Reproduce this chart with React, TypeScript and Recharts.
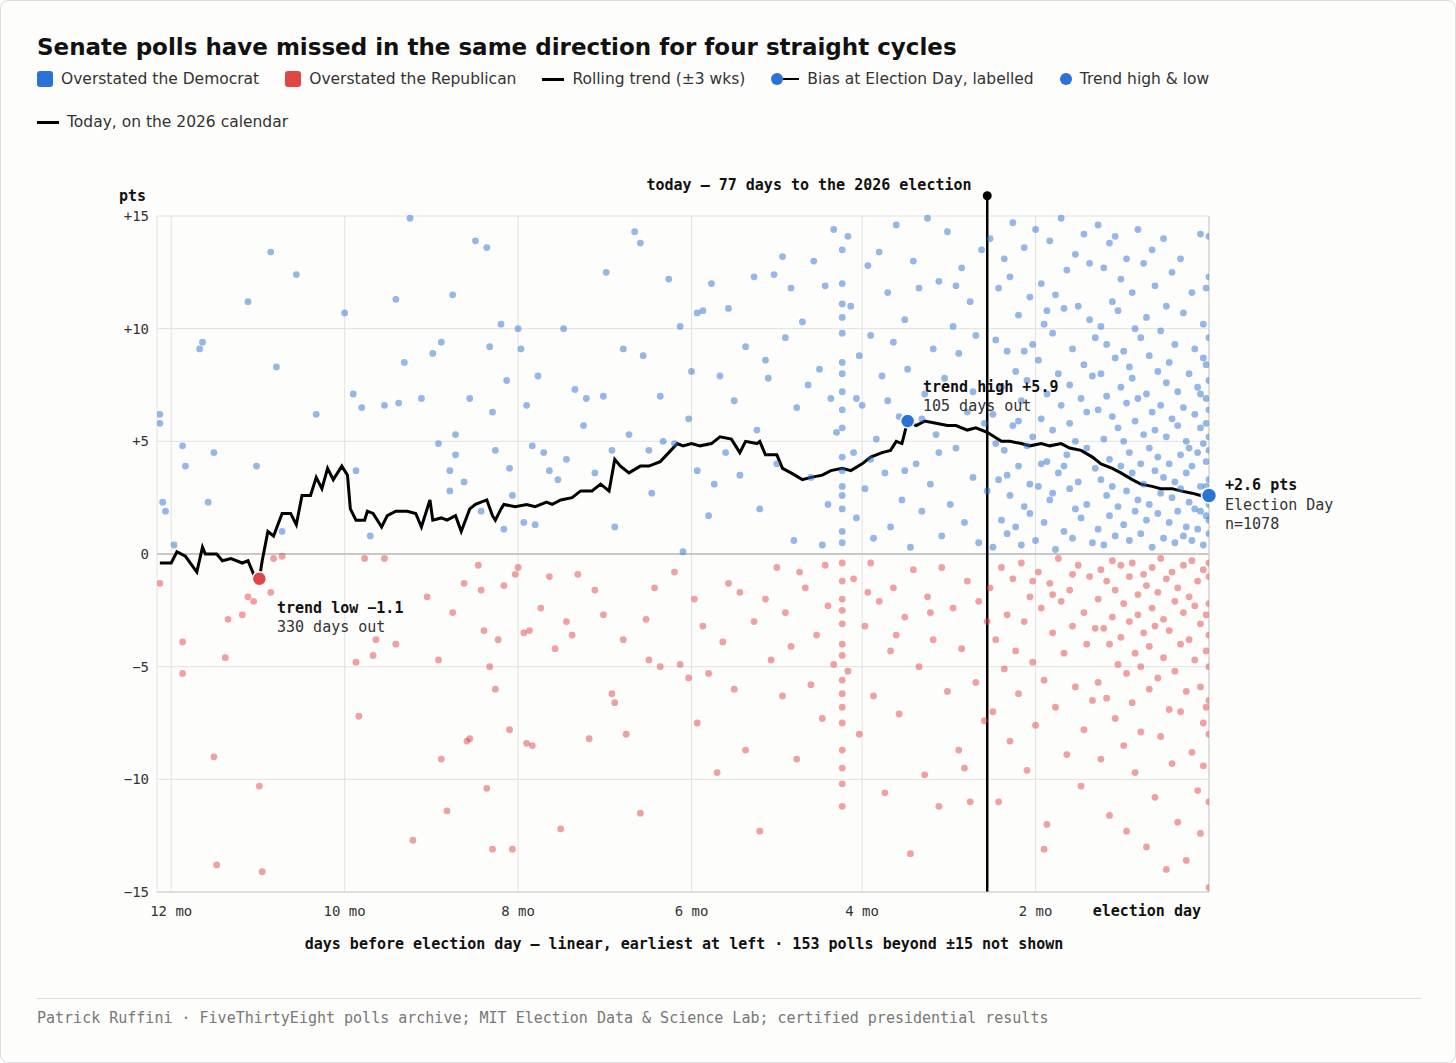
import React from "react";
import {
  ComposedChart,
  Scatter,
  Line,
  XAxis,
  YAxis,
  CartesianGrid,
  ReferenceLine,
  ReferenceDot,
} from "recharts";

// [days before election, bias in pts]
const demPolls: [number, number][] = [
  [369,6.2],[369,5.8],[368,2.3],[367,1.9],[364,0.4],[361,4.8],[360,3.9],[355,9.1],[354,9.4],[352,2.3],[350,4.5],[338,11.2],[335,3.9],[330,13.4],[328,8.3],[326,1.0],[321,12.4],[314,6.2],[304,10.7],[301,7.1],[300,3.7],
  [298,6.5],[295,0.8],[290,6.6],[286,11.3],[285,6.7],[283,8.5],[281,14.9],[277,6.9],[273,8.9],[271,4.9],[270,9.4],[267,3.7],[267,2.8],[266,11.5],[265,4.4],[265,5.3],[262,3.2],[260,6.9],[258,13.9],[256,1.9],[254,13.6],[253,9.2],[252,6.3],[251,4.6],[249,10.2],[248,1.1],[247,7.7],[246,3.8],[245,2.6],[243,10.0],[242,9.1],[241,1.4],[240,6.6],
  [238,4.8],[237,1.3],[236,7.9],[234,4.5],[232,3.7],[229,3.3],[227,10.0],[226,4.2],[223,7.3],[220,5.7],[219,6.9],[216,3.6],[213,7.0],[212,12.5],[210,4.6],[209,1.2],[206,9.1],[204,5.3],[202,14.3],[200,13.8],[199,8.8],[197,4.6],[196,2.7],[193,7.0],[192,5.0],[190,12.2],[188,4.9],[186,10.1],[185,0.1],[183,6.0],[182,8.1],[180,10.7],[180,3.7],
  [178,10.8],[176,1.7],[175,12.0],[174,3.1],[172,7.9],[170,4.5],[169,10.9],[167,6.8],[165,3.5],[163,9.2],[160,12.3],[159,5.5],[158,2.0],[156,8.6],[155,7.8],[153,12.4],[152,4.0],[150,13.2],[149,9.6],[147,11.8],[146,0.6],[145,6.5],[143,10.3],[141,7.5],[140,3.4],[139,13.0],[137,8.2],[136,0.4],[135,11.9],[134,2.2],[133,6.9],[132,14.4],[131,5.4],
  [129,1.0],[129,2.0],[129,3.0],[129,4.3],[129,5.6],[129,7.2],[129,8.5],[129,9.8],[129,11.1],[129,12.0],[129,6.4],[129,0.5],[129,2.6],[129,3.7],[129,10.5],[129,8.0],[129,13.5],
  [127,14.1],[126,11.0],[125,4.5],[124,1.6],[123,8.8],[122,6.6],[121,2.9],[120,12.8],[119,9.7],[118,0.7],[117,5.1],[116,13.4],[115,7.9],[114,3.6],[113,11.6],[112,1.2],[111,9.4],[110,14.6],[109,6.1],[108,2.4],[107,10.4],[106,8.2],[105,0.3],[104,13.0],[103,4.0],[102,11.8],[101,1.9],[100,7.1],[99,14.9],[98,3.1],[97,9.1],[96,5.3],[95,12.1],[94,0.8],[93,7.8],[92,14.3],[91,2.2],[90,10.1],[89,4.7],[88,8.9],[87,12.7],[86,1.4],[85,6.3],[84,11.2],[83,3.4],[82,9.7],[81,0.5],[80,13.5],[79,5.8],[78,2.8],[124,6.9],[119,4.2],[113,6.8],[107,3.7],[101,6.0],[95,4.5],[89,11.9],[83,7.2],
  [77,14.0],[76,0.3],[76,6.2],[75,9.5],[74,3.3],[74,11.8],[73,1.5],[73,7.4],[72,13.1],[72,4.6],[71,0.9],[71,9.0],[70,2.6],[70,12.3],[69,5.7],[69,14.7],[68,1.2],[68,8.1],[67,3.9],[67,10.6],[66,6.8],[66,0.4],[65,13.6],[65,2.1],[64,7.7],[64,4.8],[63,11.4],[63,1.8],[62,9.3],[62,5.2],[61,14.4],[61,0.6],[60,3.0],[60,8.6],[59,12.0],[59,6.0],[58,1.4],[58,10.2],[57,4.1],[57,7.1],[56,13.9],[56,2.4],[55,9.8],[55,5.5],[54,0.2],[54,11.5],[53,3.6],[53,8.0],[52,14.9],[52,6.6],[51,1.0],[51,10.9],[50,4.4],[50,12.6],[49,2.9],[49,7.5],[48,0.7],[48,9.1],[47,5.0],[47,13.3],[46,3.2],[46,11.0],[45,1.6],[45,6.9],[44,8.4],[44,14.2],[43,2.2],[43,4.7],[42,10.4],[42,12.9],[41,0.5],[41,7.9],[40,3.8],[40,9.6],[75,4.9],[71,3.5],[67,5.9],[63,3.1],[59,4.0],[55,2.7],[51,3.9],[47,2.0],[43,6.3],[65,9.0],[57,10.8],[49,5.8],
  [39,14.6],[39,1.1],[39,6.4],[38,3.3],[38,10.1],[38,8.0],[37,0.4],[37,12.7],[37,5.1],[36,2.6],[36,9.3],[36,7.0],[35,13.8],[35,4.2],[35,1.7],[34,11.2],[34,6.1],[34,3.0],[33,8.7],[33,0.8],[33,14.1],[32,5.6],[32,2.1],[32,10.8],[31,7.4],[31,3.9],[31,12.2],[30,1.3],[30,9.0],[30,5.0],[29,6.7],[29,13.1],[29,2.8],[28,0.6],[28,8.3],[28,4.5],[27,11.6],[27,3.6],[27,7.8],[26,1.9],[26,10.0],[26,5.9],[25,14.4],[25,2.4],[25,6.9],[24,4.0],[24,9.6],[24,0.9],[23,12.9],[23,5.3],[23,3.1],[22,7.1],[22,1.5],[22,10.5],[21,4.7],[21,8.8],[21,2.2],[20,13.5],[20,6.3],[20,0.3],[19,3.7],[19,11.9],[19,5.5],[18,1.8],[18,8.1],[18,4.3],[17,9.9],[17,2.7],[17,6.6],[16,14.0],[16,3.4],[16,0.7],[15,7.6],[15,5.2],[15,11.0],[14,1.4],[14,4.0],[14,8.5],[13,2.5],[13,6.0],[13,12.5],[12,3.2],[12,0.5],[12,9.3],[11,5.7],[11,1.9],[11,7.2],[10,4.4],[10,2.9],[10,13.1],[9,0.8],[9,6.5],[9,10.7],[8,3.6],[8,5.0],[8,1.2],[7,8.0],[7,2.3],[7,4.7],[6,11.6],[6,3.9],[6,0.6],[5,6.2],[5,2.0],[5,9.1],[4,4.5],[4,1.1],[4,7.4],[3,3.0],[3,14.2],[3,5.6],[2,0.4],[2,2.6],[2,8.7],[1,4.1],[1,1.7],[1,6.9],[1,11.8],[0,3.3],[0,5.2],[0,0.9],[0,2.2],[0,7.7],[0,9.6],[0,12.3],[0,4.6],[0,1.5],[1,3.0],[2,4.9],[3,1.9],[1,5.8],[0,6.4],[2,10.2],[3,7.1],[1,8.4],[0,14.1],
];

const repPolls: [number, number][] = [
  [369,-1.3],[361,-3.9],[361,-5.3],[350,-9.0],[349,-13.8],[346,-4.6],[345,-2.9],[340,-2.7],[338,-1.9],[336,-2.1],[334,-10.3],[333,-14.1],[330,-1.7],[329,-0.2],[326,-0.1],
  [300,-4.8],[299,-7.2],[297,-0.2],[294,-4.5],[293,-3.8],[290,-0.2],[286,-4.0],[280,-12.7],[275,-1.9],[271,-4.7],[270,-9.1],[268,-11.4],[266,-2.6],[262,-1.3],[261,-8.3],[260,-8.2],[257,-0.5],[256,-1.6],[255,-3.4],[254,-10.4],[253,-5.0],[252,-13.1],[251,-6.0],[250,-3.8],[248,-1.4],[246,-7.8],[245,-13.1],[244,-0.9],[243,-0.6],[241,-3.5],[240,-8.4],
  [239,-3.4],[238,-8.5],[235,-2.4],[232,-1.0],[230,-4.2],[228,-12.2],[226,-3.0],[224,-3.6],[222,-0.9],[218,-8.2],[216,-1.6],[213,-2.7],[210,-6.2],[209,-6.6],[206,-3.8],[205,-8.0],[200,-11.5],[198,-2.9],[197,-4.7],[195,-1.5],[193,-5.0],[188,-0.8],[186,-4.9],[183,-5.5],[181,-2.0],[180,-7.5],
  [178,-3.2],[176,-5.3],[173,-9.7],[171,-3.9],[169,-1.3],[167,-6.0],[165,-1.7],[163,-8.7],[160,-3.0],[158,-12.3],[156,-2.0],[154,-4.7],[152,-0.6],[150,-6.3],[149,-2.6],[147,-4.1],[145,-9.1],[144,-0.8],[142,-1.5],[140,-5.8],[138,-3.6],[136,-7.3],[135,-0.5],[134,-2.3],[132,-4.9],
  [129,-0.4],[129,-1.2],[129,-2.0],[129,-3.1],[129,-4.5],[129,-5.6],[129,-6.8],[129,-7.5],[129,-8.7],[129,-9.5],[129,-2.5],[129,-10.2],[129,-6.2],[129,-4.0],[129,-11.2],
  [127,-5.2],[125,-1.1],[123,-8.0],[121,-3.2],[119,-0.4],[118,-6.3],[116,-2.1],[114,-10.6],[112,-4.3],[111,-1.5],[109,-7.1],[107,-2.8],[105,-13.3],[104,-0.7],[102,-5.0],[100,-9.8],[99,-1.9],[97,-3.8],[95,-11.2],[94,-0.6],[92,-6.1],[90,-2.4],[88,-8.7],[87,-4.2],[85,-1.2],[84,-11.0],[82,-5.7],[81,-2.1],[79,-7.4],[78,-3.0],[120,-1.7],[110,-3.6],[98,-2.6],[86,-9.5],
  [77,-1.5],[76,-7.0],[75,-3.8],[74,-11.0],[73,-0.6],[72,-5.1],[71,-2.7],[70,-8.3],[69,-1.1],[68,-4.3],[67,-6.2],[66,-0.4],[65,-3.0],[64,-9.6],[63,-1.9],[62,-4.8],[61,-7.6],[60,-0.8],[59,-2.4],[58,-5.6],[57,-12.0],[56,-1.3],[55,-3.5],[54,-6.8],[53,-0.2],[52,-2.1],[51,-4.4],[50,-8.9],[49,-1.6],[48,-3.2],[47,-5.9],[46,-0.5],[45,-10.3],[44,-2.6],[43,-4.0],[42,-1.0],[41,-6.5],[40,-3.3],[62,-1.2],[55,-1.8],[48,-0.9],[44,-7.8],[58,-13.1],
  [39,-2.0],[39,-5.7],[38,-0.7],[38,-9.1],[37,-3.3],[36,-1.2],[36,-6.4],[35,-4.0],[35,-11.6],[34,-0.3],[34,-2.8],[33,-7.3],[33,-1.6],[32,-4.9],[31,-0.5],[31,-3.7],[30,-8.5],[30,-2.2],[29,-5.3],[29,-12.3],[28,-1.0],[28,-3.0],[27,-6.6],[27,-0.4],[26,-4.4],[26,-9.7],[25,-1.8],[25,-2.7],[24,-5.0],[24,-7.9],[23,-0.9],[23,-3.5],[22,-13.0],[22,-1.4],[21,-4.1],[21,-6.0],[20,-2.4],[20,-0.6],[19,-10.8],[19,-3.2],[18,-1.7],[18,-5.5],[17,-8.1],[17,-0.2],[16,-2.9],[16,-4.6],[15,-14.0],[15,-1.1],[14,-6.9],[14,-3.4],[13,-0.8],[13,-9.3],[12,-2.1],[12,-5.2],[11,-1.5],[11,-11.9],[10,-4.0],[10,-7.0],[9,-0.5],[9,-2.6],[8,-6.1],[8,-13.6],[7,-1.9],[7,-3.8],[6,-8.8],[6,-0.3],[5,-4.7],[5,-2.3],[4,-10.5],[4,-1.2],[3,-5.9],[3,-3.1],[2,-7.5],[2,-0.7],[1,-2.7],[1,-4.3],[0,-1.0],[0,-3.6],[0,-5.0],[0,-6.5],[0,-8.0],[0,-14.8],[0,-2.2],[0,-0.4],[1,-6.8],[2,-9.4],[3,-12.4],[0,-11.0],
];

const trend: [number, number][] = [
  [369,-0.4],[365,-0.4],[363,0.1],[360,-0.1],[356,-0.8],[354,0.3],[353,0.0],[349,0.0],[347,-0.3],[344,-0.2],[340,-0.4],[338,-0.3],[336,-0.9],[334,-1.1],[333,-0.3],[331,1.0],[329,0.8],[326,1.8],[323,1.8],[321,1.3],[319,2.6],[316,2.6],[314,3.4],[312,2.9],[310,3.8],[308,3.3],[305,3.9],[303,3.5],[302,2.0],[300,1.5],[297,1.5],[296,1.9],[294,1.8],[291,1.2],[289,1.7],[286,1.9],[282,1.9],[279,1.8],[277,1.2],[274,2.4],[273,1.5],[270,1.6],[268,1.5],[265,1.7],[263,1.0],[260,2.0],[258,2.2],[254,2.4],[252,1.7],[251,1.5],[249,2.0],[248,2.2],[244,2.1],[240,2.2],[237,2.1],[233,2.3],[231,2.2],[228,2.4],[224,2.5],[221,2.8],[217,2.8],[214,3.1],[211,2.8],[209,4.2],[207,3.9],[204,3.6],[200,3.9],[197,3.9],[193,4.1],[190,4.5],[187,4.9],[185,4.8],[182,4.9],[179,4.8],[175,4.9],[172,5.2],[168,5.1],[165,4.5],[163,5.0],[159,4.9],[158,5.0],[156,4.4],[152,4.4],[150,3.8],[147,3.6],[143,3.3],[140,3.4],[136,3.5],[133,3.7],[129,3.8],[126,3.7],[122,4.0],[119,4.3],[115,4.5],[112,4.6],[110,5.0],[108,4.9],[106,5.9],[103,5.7],[100,5.9],[96,5.8],[92,5.7],[89,5.7],[85,5.5],[82,5.6],[78,5.4],[73,5.0],[70,5.0],[66,4.9],[63,4.8],[59,4.9],[56,4.8],[52,4.9],[49,4.7],[45,4.6],[41,4.3],[38,4.0],[34,3.8],[31,3.6],[27,3.3],[24,3.1],[20,3.0],[17,2.9],[13,2.9],[10,2.8],[6,2.7],[3,2.6],[0,2.6],
];

const xTicks = [365, 304, 243, 182, 122, 61, 0];
const xTickLabels = ["12 mo", "10 mo", "8 mo", "6 mo", "4 mo", "2 mo", "election day"];
const yTicks = [-15, -10, -5, 0, 5, 10, 15];
const todayDays = 78;

const BLUE = "#2b72d6";
const RED = "#e04646";
const MONO = "'DejaVu Sans Mono', monospace";
const SANS = "'DejaVu Sans', sans-serif";

const dot = (color: string) => (p: any) => (
  <circle cx={p.cx} cy={p.cy} r={3.4} fill={color} fillOpacity={0.5} />
);

const XTick = (p: any) => {
  const i = xTicks.indexOf(p.payload.value);
  const last = i === xTicks.length - 1;
  return (
    <text x={last ? p.x - 8 : p.x} y={p.y + 16} textAnchor={last ? "end" : "middle"}
      fontFamily={MONO} fontSize={last ? 15 : 14} fontWeight={last ? 700 : 400} fill={last ? "#111" : "#333"}>
      {xTickLabels[i]}
    </text>
  );
};

const YTick = (p: any) => {
  const v = p.payload.value;
  return (
    <text x={p.x} y={p.y + 5} textAnchor="end" fontFamily={MONO} fontSize={14} fill="#333">
      {v > 0 ? `+${v}` : v < 0 ? `−${-v}` : "0"}
    </text>
  );
};

const txt = (x: number, y: number, s: string, bold = false, extra: any = {}) => (
  <div style={{ position: "absolute", left: x, top: y, fontFamily: MONO, fontSize: 15, fontWeight: bold ? 700 : 400, color: bold ? "#111" : "#333", whiteSpace: "nowrap", ...extra }}>{s}</div>
);

const LegendItem = ({ mark, label }: { mark: React.ReactNode; label: string }) => (
  <div style={{ display: "flex", alignItems: "center", marginRight: 26 }}>
    {mark}
    <span style={{ marginLeft: 8 }}>{label}</span>
  </div>
);

const rowStyle: React.CSSProperties = {
  position: "absolute", left: 36, display: "flex", alignItems: "center", height: 22,
  fontFamily: SANS, fontSize: 15.5, color: "#333", whiteSpace: "nowrap",
};

export default function App() {
  const dem = demPolls.map(([d, v]) => ({ d, v }));
  const rep = repPolls.map(([d, v]) => ({ d, v }));
  const tr = trend.map(([d, v]) => ({ d, t: v }));
  const sq = (c: string) => <span style={{ width: 16, height: 16, background: c, borderRadius: 3, display: "inline-block" }} />;
  const bar = <span style={{ width: 22, height: 3, background: "#000", display: "inline-block" }} />;
  const circ = <span style={{ width: 12, height: 12, borderRadius: 6, background: BLUE, display: "inline-block" }} />;

  return (
    <div style={{ position: "absolute", left: 0, top: 0, width: 1454, height: 1061, border: "1px solid #ddd", borderRadius: 8, background: "#fdfdfb", overflow: "hidden" }}>
      <div style={{ position: "absolute", left: 36, top: 33, fontFamily: SANS, fontWeight: 700, fontSize: 23, color: "#111", whiteSpace: "nowrap" }}>
        Senate polls have missed in the same direction for four straight cycles
      </div>
      <div style={{ ...rowStyle, top: 67 }}>
        <LegendItem mark={sq(BLUE)} label="Overstated the Democrat" />
        <LegendItem mark={sq(RED)} label="Overstated the Republican" />
        <LegendItem mark={bar} label="Rolling trend (±3 wks)" />
        <LegendItem mark={<span style={{ display: "inline-flex", alignItems: "center" }}>{circ}<span style={{ width: 16, height: 2, background: "#000" }} /></span>} label="Bias at Election Day, labelled" />
        <LegendItem mark={circ} label="Trend high & low" />
      </div>
      <div style={{ ...rowStyle, top: 110 }}>
        <LegendItem mark={bar} label="Today, on the 2026 calendar" />
      </div>

      <div style={{ position: "absolute", left: 0, top: 0 }}>
        <ComposedChart width={1456} height={1000} margin={{ top: 215, right: 248, left: 106, bottom: 79 }}>
          <CartesianGrid stroke="#e2e2e2" />
          <XAxis type="number" dataKey="d" domain={[370, 0]} ticks={xTicks}
            allowDataOverflow tick={<XTick />} tickLine={false} axisLine={{ stroke: "#ccc" }} height={30} />
          <YAxis type="number" dataKey="v" domain={[-15, 15]} ticks={yTicks} tick={<YTick />}
            tickLine={false} axisLine={false} width={50} />
          <ReferenceLine y={0} stroke="#bbb" strokeWidth={1.5} />
          <ReferenceLine x={0} stroke="#ccc" />
          <Scatter data={dem} dataKey="v" shape={dot(BLUE)} isAnimationActive={false} />
          <Scatter data={rep} dataKey="v" shape={dot(RED)} isAnimationActive={false} />
          <Line data={tr} dataKey="t" type="linear" stroke="#000" strokeWidth={3} dot={false} isAnimationActive={false} />
          <ReferenceLine ifOverflow="visible" segment={[{ x: todayDays, y: -15 }, { x: todayDays, y: 15.9 }]} stroke="#000" strokeWidth={2.5} />
          <ReferenceDot x={todayDays} y={15.9} r={4.5} fill="#000" stroke="none" ifOverflow="visible" />
          <ReferenceDot x={106} y={5.9} r={7} fill={BLUE} stroke="#fff" strokeWidth={1.5} />
          <ReferenceDot x={334} y={-1.1} r={7} fill={RED} stroke="#fff" strokeWidth={1.5} />
          <ReferenceDot x={0} y={2.6} r={7.5} fill={BLUE} stroke="#fff" strokeWidth={1.5} ifOverflow="visible" />
        </ComposedChart>
      </div>

      {txt(118, 186, "pts", true)}
      {txt(808, 175, "today — 77 days to the 2026 election", true, { transform: "translateX(-50%)" })}
      {txt(922, 377, "trend high +5.9", true)}
      {txt(922, 396, "105 days out")}
      {txt(276, 598, "trend low −1.1", true)}
      {txt(276, 617, "330 days out")}
      {txt(1224, 475, "+2.6 pts", true)}
      {txt(1224, 495, "Election Day")}
      {txt(1224, 514, "n=1078")}
      {txt(683, 934, "days before election day — linear, earliest at left · 153 polls beyond ±15 not shown", true, { transform: "translateX(-50%)" })}

      <div style={{ position: "absolute", left: 36, top: 997, width: 1384, height: 1, background: "#ddd" }} />
      {txt(36, 1008, "Patrick Ruffini · FiveThirtyEight polls archive; MIT Election Data & Science Lab; certified presidential results", false, { color: "#777" })}
    </div>
  );
}
